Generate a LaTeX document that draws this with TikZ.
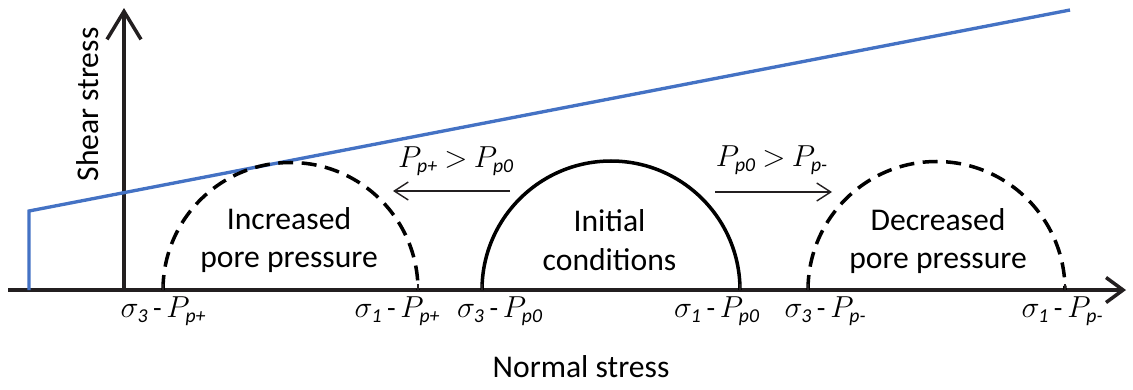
\documentclass[tikz,border=0pt]{standalone}
\usepackage{amsmath}
\usepackage{fontspec}
\setmainfont{Carlito}
\usepackage{tikz}
\usetikzlibrary{arrows.meta}

\definecolor{envblue}{RGB}{68,114,196}
\definecolor{axisgray}{RGB}{35,31,32}
\newcommand{\sbs}[1]{\text{\itshape #1}}

\begin{document}
\begin{tikzpicture}[font=\fontsize{18}{22}\selectfont,
      axis/.style={draw=axisgray, line width=2pt},
      circ/.style={line width=2pt},
      dcirc/.style={circ, dash pattern=on 0.3cm off 0.17cm},
      envelope/.style={draw=envblue, line width=1.9pt},
      porearrow/.style={draw=axisgray, line width=0.8pt, -{Straight Barb[length=0.28cm, width=0.36cm]}},
      tickmark/.style={axis, line width=1.6pt},
      sig/.style={font=\fontsize{16}{18}\selectfont, inner sep=1pt},
      inlbl/.style={align=center, inner sep=0pt}]
    \useasboundingbox (0,-1.98) rectangle (22.66,5.8);
    \coordinate (xs) at (0.16,0);
    \coordinate (xe) at (22.52,0);
    \coordinate (o)  at (2.48,0);
    \coordinate (ye) at (2.48,5.64);
    \coordinate (e0) at (0.58,0);
    \coordinate (e1) at (0.58,1.58);
    \coordinate (e2) at (21.4,5.6);
    \draw[axis, -{Straight Barb[length=0.34cm, width=0.5cm]}] (xs) -- (xe);
    \draw[axis, -{Straight Barb[length=0.56cm, width=0.68cm]}] (o) -- (ye);
    \draw[envelope] (e0) -- (e1) -- (e2);
    \draw[dcirc] (3.26,0) arc[start angle=180, end angle=0, radius=2.55];
    \draw[circ] (9.64,0) arc[start angle=180, end angle=0, radius=2.58];
    \draw[dcirc] (16.16,0) arc[start angle=180, end angle=0, radius=2.57];
    \foreach \x in {3.26, 8.36, 9.64, 14.8, 16.16, 21.3}
      \draw[tickmark] (\x,0) -- (\x,0.12);
    \node[inlbl] (inc) at (5.78,1.0)  {Increased\\pore pressure};
    \node[inlbl] (ini) at (12.19,1.0) {Initial\\conditions};
    \node[inlbl] (dec) at (18.76,0.98) {Decreased\\pore pressure};
    \node[sig] (s3p) at (3.27,-0.42)  {$\sigma_{\sbs{3}}$\,-\,$P_{\sbs{p+}}$};
    \node[sig] (s1p) at (7.95,-0.42)  {$\sigma_{\sbs{1}}$\,-\,$P_{\sbs{p+}}$};
    \node[sig] (s30) at (10.0,-0.42)  {$\sigma_{\sbs{3}}$\,-\,$P_{\sbs{p0}}$};
    \node[sig] (s10) at (14.34,-0.42) {$\sigma_{\sbs{1}}$\,-\,$P_{\sbs{p0}}$};
    \node[sig] (s3m) at (16.51,-0.42) {$\sigma_{\sbs{3}}$\,-\,$P_{\sbs{p-}}$};
    \node[sig] (s1m) at (21.25,-0.42) {$\sigma_{\sbs{1}}$\,-\,$P_{\sbs{p-}}$};
    \node[sig] (up) at (9.12,2.58)  {$P_{\sbs{p+}}$ $>$ $P_{\sbs{p0}}$};
    \node[sig] (dn) at (15.44,2.6)  {$P_{\sbs{p0}}$ $>$ $P_{\sbs{p-}}$};
    \coordinate (ua) at (10.2,1.98);
    \coordinate (ub) at (7.86,1.98);
    \coordinate (da) at (14.3,1.96);
    \coordinate (db) at (16.64,1.96);
    \draw[porearrow] (ua) -- (ub);
    \draw[porearrow] (da) -- (db);
    \node[rotate=90] (ylab) at (1.76,3.71) {Shear stress};
    \node (xlab) at (11.62,-1.54) {Normal stress};
  \end{tikzpicture}
\end{document}
